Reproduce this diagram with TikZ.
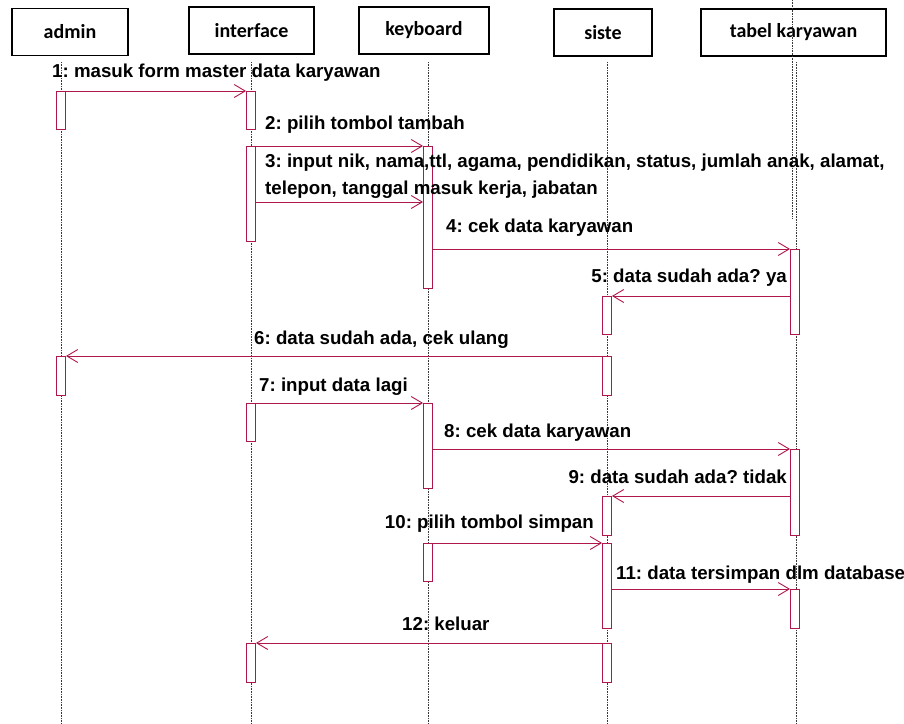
\documentclass[tikz,border=0pt]{standalone}
\usepackage{fontspec}
\setmainfont{Liberation Sans}
\newfontfamily\headfont{Carlito}
\usepackage{tikz}
\usetikzlibrary{arrows.meta,positioning}
\definecolor{seqred}{HTML}{B0184C}
\definecolor{lifegray}{HTML}{3A3A3A}
\frenchspacing

\begin{document}
\begin{tikzpicture}[
    x=1pt, y=-1pt,
    head/.style={draw=black, line width=1.8pt, minimum width=#1, minimum height=47pt,
                 inner sep=0pt, font=\headfont\bfseries\fontsize{20}{24}\selectfont},
    act/.style={draw=seqred, line width=0.9pt, fill=white, minimum width=9pt,
                minimum height=#1, inner sep=0pt, anchor=north},
    msg/.style={draw=seqred, line width=0.9pt, -{Straight Barb[length=11pt,width=13pt]}},
    lbl/.style={inner sep=0pt, font=\bfseries\fontsize{18.7}{22}\selectfont},
    life/.style={lifegray, line width=0.6pt, densely dotted}
]
    \useasboundingbox (0,0) rectangle (904,723);

    % Objects
    \node[head=116pt] (admin) at (70,32) {admin};
    \node[head=125pt] (interface) at (251.5,30.5) {interface};
    \node[head=130pt] (keyboard) at (424,30.5) {keyboard};
    \node[head=98pt] (siste) at (603,32.5) {siste};
    \node[head=185pt] (tabel) at (793.5,32.5) {tabel karyawan};

    % Lifelines
    \foreach \x in {61, 251, 428, 607, 796} {
        \draw[life] (\x,62) -- (\x,723);
    }
    \draw[life] (792,0) -- (792,219);

    % Activations
    \node[act=38pt] (adm1) at (61,91) {};
    \node[act=39pt] (adm2) at (61,356) {};
    \node[act=38pt] (int1) at (251,91) {};
    \node[act=95pt] (int2) at (251,146) {};
    \node[act=38pt] (int3) at (251,403) {};
    \node[act=39pt] (int4) at (251,643) {};
    \node[act=142pt] (key1) at (428,146) {};
    \node[act=85pt] (key2) at (428,403) {};
    \node[act=38pt] (key3) at (428,543) {};
    \node[act=38pt] (sis1) at (607,296) {};
    \node[act=39pt] (sis2) at (607,356) {};
    \node[act=39pt] (sis3) at (607,496) {};
    \node[act=85pt] (sis4) at (607,543) {};
    \node[act=39pt] (sis5) at (607,643) {};
    \node[act=85pt] (tab1) at (795,249) {};
    \node[act=86pt] (tab2) at (795,449) {};
    \node[act=39pt] (tab3) at (795,589) {};

    % Messages
    \coordinate (m3) at (0,202);
    \draw[msg] (adm1.north east) -- (int1.north west);
    \draw[msg] (int2.north east) -- (key1.north west);
    \draw[msg] (int2.east |- m3) -- (key1.west |- m3);
    \draw[msg] (key1.east |- tab1.north) -- (tab1.north west);
    \draw[msg] (tab1.west |- sis1.north) -- (sis1.north east);
    \draw[msg] (sis2.north west) -- (adm2.north east);
    \draw[msg] (int3.north east) -- (key2.north west);
    \draw[msg] (key2.east |- tab2.north) -- (tab2.north west);
    \draw[msg] (tab2.west |- sis3.north) -- (sis3.north east);
    \draw[msg] (key3.north east) -- (sis4.north west);
    \draw[msg] (sis4.east |- tab3.north) -- (tab3.north west);
    \draw[msg] (sis5.north west) -- (int4.north east);

    % Labels
    \node[lbl, anchor=base west] (t1) at (52,77) {1: masuk form master data karyawan};
    \node[lbl, anchor=base west] (t2) at (265,129) {2: pilih tombol tambah};
    \node[lbl, anchor=base west] (t3a) at (265,167) {3: input nik, nama,ttl, agama, pendidikan, status, jumlah anak, alamat,};
    \node[lbl, anchor=base west] (t3b) at (265,194) {telepon, tanggal masuk kerja, jabatan};
    \node[lbl, anchor=base west] (t4) at (446,232) {4: cek data karyawan};
    \node[lbl, anchor=base east] (t5) at (787,282) {5: data sudah ada? ya};
    \node[lbl, anchor=base west] (t6) at (254,344) {6: data sudah ada, cek ulang};
    \node[lbl, anchor=base west] (t7) at (259,391) {7: input data lagi};
    \node[lbl, anchor=base west] (t8) at (444,437) {8: cek data karyawan};
    \node[lbl, anchor=base east] (t9) at (787,483) {9: data sudah ada? tidak};
    \node[lbl, anchor=base east] (t10) at (594,528) {10: pilih tombol simpan};
    \node[lbl, anchor=base west] (t11) at (616,579) {11: data tersimpan dlm database};
    \node[lbl, anchor=base west] (t12) at (402,630) {12: keluar};
\end{tikzpicture}
\end{document}
